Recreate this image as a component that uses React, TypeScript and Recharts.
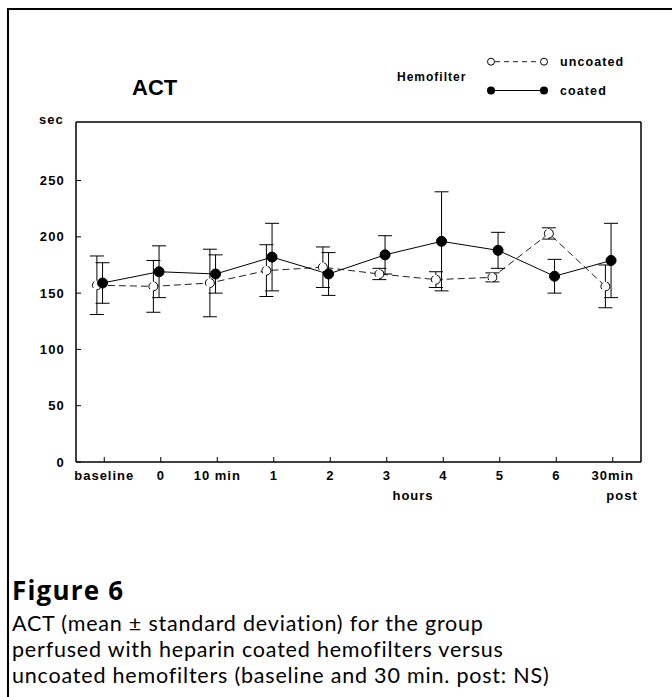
import React from 'react';
import { LineChart, Line, XAxis, YAxis, ErrorBar, ReferenceLine } from 'recharts';

const timeLabels = ['baseline', '0', '10 min', '1', '2', '3', '4', '5', '6', '30min'];
const timeSubLabels = ['', '', '', '', '', '', '', '', '', 'post'];
const timeIndex = [0, 1, 2, 3, 4, 5, 6, 7, 8, 9];
const uncoatedMean = [157, 156, 159, 170, 173, 167, 162, 164, 203, 156];
const uncoatedSD = [26, 23, 30, 23, 18, 5, 7, 4, 5, 19];
const coatedMean = [159, 169, 167, 182, 167, 184, 196, 188, 165, 179];
const coatedSD = [18, 23, 17, 30, 19, 17, 44, 16, 15, 33];
const yTicks = [0, 50, 100, 150, 200, 250];

const data = timeIndex.map((t, i) => ({
  t,
  uncoated: uncoatedMean[i],
  uncoatedSD: uncoatedSD[i],
  coated: coatedMean[i],
  coatedSD: coatedSD[i],
}));

const FONT = '"Liberation Sans", Arial, Helvetica, sans-serif';

const XTick = (props: any) => {
  const { x, y, payload } = props;
  const i = payload.value as number;
  const sub = timeSubLabels[i];
  return (
    <g>
      <text x={x} y={y} dy="0.71em" textAnchor="middle" fontFamily={FONT} fontWeight="bold" fontSize={13} letterSpacing={1} fill="#000">
        {timeLabels[i]}
      </text>
      {sub ? (
        <text x={x + 25} y={y + 20} dy="0.71em" textAnchor="end" fontFamily={FONT} fontWeight="bold" fontSize={13} letterSpacing={1} fill="#000">
          {sub}
        </text>
      ) : null}
    </g>
  );
};

export default function App() {
  return (
    <div style={{ position: 'absolute', left: 0, top: 0, width: 672, height: 697, background: '#fff', overflow: 'hidden' }}>
      <div style={{ position: 'absolute', left: 7, top: 8, width: 665, height: 2, background: '#000' }} />
      <div style={{ position: 'absolute', left: 7, top: 8, width: 2, height: 689, background: '#000' }} />
      <div style={{ position: 'absolute', left: 0, top: 0 }}>
        <LineChart width={672} height={697} data={data} margin={{ top: 122, right: 30, bottom: 195, left: 16 }}>
          <XAxis
            xAxisId="a_main"
            dataKey="t"
            type="number"
            domain={[-0.5, 9.5]}
            ticks={timeIndex}
            height={40}
            tickSize={-5}
            tickMargin={14}
            axisLine={{ stroke: '#000', strokeWidth: 1.5 }}
            tickLine={{ stroke: '#000', strokeWidth: 1 }}
            tick={<XTick />}
            interval={0}
          />
          <XAxis xAxisId="u" dataKey="t" type="number" domain={[-0.37, 9.63]} height={0} hide />
          <XAxis xAxisId="v" dataKey="t" type="number" domain={[-0.47, 9.53]} height={0} hide />
          <YAxis
            yAxisId="left"
            type="number"
            domain={[0, 302]}
            ticks={yTicks}
            width={60}
            tickSize={-5}
            tickMargin={16}
            axisLine={{ stroke: '#000', strokeWidth: 1.5 }}
            tickLine={{ stroke: '#000', strokeWidth: 1 }}
            tick={{ fontFamily: FONT, fontWeight: 'bold', fontSize: 13, letterSpacing: 1.2, fill: '#000' }}
            allowDataOverflow
          />
          <YAxis
            yAxisId="right"
            orientation="right"
            type="number"
            domain={[0, 302]}
            ticks={yTicks}
            width={1}
            tickSize={-5}
            tick={false}
            axisLine={{ stroke: '#000', strokeWidth: 1.5 }}
            tickLine={{ stroke: '#000', strokeWidth: 1 }}
            allowDataOverflow
          />
          <ReferenceLine xAxisId="a_main" yAxisId="left" y={302} stroke="#000" strokeWidth={1.5} />
          <Line
            xAxisId="u"
            yAxisId="left"
            dataKey="uncoated"
            stroke="#222"
            strokeWidth={1}
            strokeDasharray="7 4"
            dot={{ r: 4.5, fill: '#fff', stroke: '#000', strokeWidth: 1 }}
            isAnimationActive={false}
          >
            <ErrorBar dataKey="uncoatedSD" width={7} stroke="#000" strokeWidth={1} direction="y" />
          </Line>
          <Line
            xAxisId="v"
            yAxisId="left"
            dataKey="coated"
            stroke="#000"
            strokeWidth={1}
            dot={{ r: 5, fill: '#000', stroke: '#000', strokeWidth: 1 }}
            isAnimationActive={false}
          >
            <ErrorBar dataKey="coatedSD" width={7} stroke="#000" strokeWidth={1} direction="y" />
          </Line>
        </LineChart>
      </div>
      <svg width={672} height={697} style={{ position: 'absolute', left: 0, top: 0, pointerEvents: 'none' }}>
        <text x={132} y={94.5} fontFamily={FONT} fontWeight="bold" fontSize={22} fill="#000">ACT</text>
        <text x={39} y={124} fontFamily={FONT} fontWeight="bold" fontSize={13} letterSpacing={1} fill="#000">sec</text>
        <text x={397} y={81} fontFamily={FONT} fontWeight="bold" fontSize={12} letterSpacing={1} fill="#000">Hemofilter</text>
        <line x1={495} y1={61.7} x2={540.5} y2={61.7} stroke="#222" strokeWidth={1} strokeDasharray="5 4" />
        <circle cx={491} cy={61.7} r={3.5} fill="#fff" stroke="#000" strokeWidth={1} />
        <circle cx={544} cy={61.7} r={3.5} fill="#fff" stroke="#000" strokeWidth={1} />
        <text x={560} y={66} fontFamily={FONT} fontWeight="bold" fontSize={12.5} letterSpacing={1.1} fill="#000">uncoated</text>
        <line x1={491} y1={90.5} x2={544} y2={90.5} stroke="#000" strokeWidth={1} />
        <circle cx={491} cy={90.5} r={4} fill="#000" />
        <circle cx={544} cy={90.5} r={4} fill="#000" />
        <text x={560} y={95} fontFamily={FONT} fontWeight="bold" fontSize={12.5} letterSpacing={1.1} fill="#000">coated</text>
        <text x={413} y={500} textAnchor="middle" fontFamily={FONT} fontWeight="bold" fontSize={13} letterSpacing={1} fill="#000">hours</text>
      </svg>
      <div style={{ position: 'absolute', left: 12, top: 576, color: '#000' }}>
        <div style={{ fontFamily: '"Open Sans", Lato, sans-serif', fontWeight: 'bold', fontSize: 26, lineHeight: '28px', letterSpacing: 1.2 }}>Figure 6</div>
        <div style={{ fontFamily: 'Lato, "Open Sans", sans-serif', fontSize: 21.5, lineHeight: '26px', letterSpacing: 0.8, marginTop: 6 }}>
          ACT (mean ± standard deviation) for the group
          <br />
          perfused with heparin coated hemofilters versus
          <br />
          uncoated hemofilters (baseline and 30 min. post: NS)
        </div>
      </div>
    </div>
  );
}
